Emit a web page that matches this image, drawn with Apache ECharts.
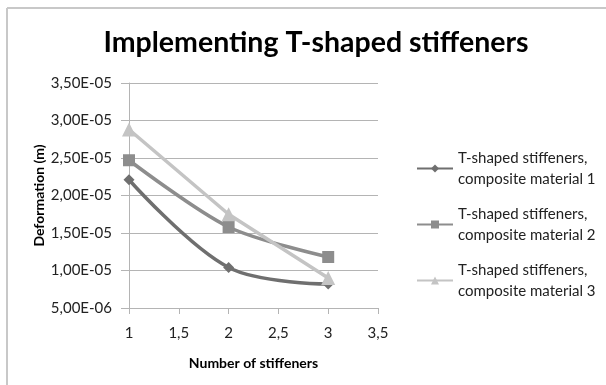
<!DOCTYPE html>
<html>
<head>
<meta charset="utf-8">
<script src="https://cdn.jsdelivr.net/npm/echarts@6/dist/echarts.min.js"></script>
<style>
  html, body { margin: 0; padding: 0; background: #ffffff; }
  #chart { width: 606px; height: 385px; }
</style>
</head>
<body>
<div id="chart"></div>
<script>
// Number of stiffeners
const stiffenerCounts = [1, 2, 3];

// Deformation (m) for each composite material
const material1 = [2.21e-5, 1.04e-5, 8.2e-6];
const material2 = [2.47e-5, 1.58e-5, 1.18e-5];
const material3 = [2.88e-5, 1.75e-5, 9.0e-6];

const seriesNames = [
  'T-shaped stiffeners,\ncomposite material 1',
  'T-shaped stiffeners,\ncomposite material 2',
  'T-shaped stiffeners,\ncomposite material 3'
];

const titleText = 'Implementing T-shaped stiffeners';
const xAxisTitle = 'Number of stiffeners';
const yAxisTitle = 'Deformation (m)';

const FONT = 'Lato, "Open Sans", sans-serif';

function pairs(values) {
  return stiffenerCounts.map((x, i) => [x, values[i]]);
}

// 3.5e-5 -> "3,50E-05"
function sciLabel(v) {
  const s = v.toExponential(2);
  const [mant, exp] = s.split('e');
  const n = parseInt(exp, 10);
  const sign = n < 0 ? '-' : '+';
  const abs = Math.abs(n);
  return mant.replace('.', ',') + 'E' + sign + (abs < 10 ? '0' + abs : abs);
}

const chart = echarts.init(document.getElementById('chart'), null, { renderer: 'canvas' });

chart.setOption({
  backgroundColor: '#ffffff',
  animation: false,
  title: {
    text: titleText,
    left: 311,
    textAlign: 'center',
    top: 23,
    textStyle: { fontFamily: FONT, fontWeight: 'bold', fontSize: 28.5, color: '#000000' }
  },
  graphic: [
    { type: 'line', shape: { x1: 7, y1: 8, x2: 606, y2: 8 }, style: { stroke: '#c8c8c8', lineWidth: 2 } },
    { type: 'line', shape: { x1: 7, y1: 8, x2: 7, y2: 385 }, style: { stroke: '#c8c8c8', lineWidth: 2 } }
  ],
  grid: { left: 129, top: 83, width: 249, height: 225 },
  xAxis: {
    type: 'value',
    min: 1, max: 3.5, interval: 0.5,
    name: xAxisTitle,
    nameLocation: 'middle',
    nameGap: 48,
    nameTextStyle: { fontFamily: FONT, fontWeight: 'bold', fontSize: 14, color: '#000' },
    axisLine: { show: true, lineStyle: { color: '#b4b4b4', width: 1 } },
    axisTick: { show: true, length: 6, lineStyle: { color: '#b4b4b4' } },
    axisLabel: { fontFamily: FONT, fontSize: 15, color: '#222', margin: 18, formatter: v => String(v).replace('.', ',') },
    splitLine: { show: false }
  },
  yAxis: {
    type: 'value',
    min: 5e-6, max: 3.5e-5, interval: 5e-6,
    name: yAxisTitle,
    nameLocation: 'middle',
    nameGap: 83,
    nameTextStyle: { fontFamily: FONT, fontWeight: 'bold', fontSize: 14, color: '#000' },
    axisLine: { show: true, lineStyle: { color: '#b4b4b4', width: 1 } },
    axisTick: { show: true, length: 8, inside: false, lineStyle: { color: '#b4b4b4' } },
    axisLabel: { fontFamily: FONT, fontSize: 15, color: '#222', margin: 17, formatter: sciLabel },
    splitLine: { show: true, lineStyle: { color: '#b4b4b4', width: 1 } }
  },
  legend: {
    orient: 'vertical',
    left: 411,
    top: 132,
    itemWidth: 36,
    itemHeight: 10,
    itemGap: -7,
    textStyle: { fontFamily: FONT, fontSize: 15, color: '#222', lineHeight: 21, padding: [21, 0, 0, 0] },
    data: seriesNames
  },
  series: [
    {
      name: seriesNames[0], type: 'line', data: pairs(material1), smooth: 0.35,
      symbol: 'diamond', symbolSize: 11,
      lineStyle: { color: '#6f6f6f', width: 3.5 },
      itemStyle: { color: '#6f6f6f' }
    },
    {
      name: seriesNames[1], type: 'line', data: pairs(material2), smooth: 0.3,
      symbol: 'rect', symbolSize: 12,
      lineStyle: { color: '#8d8d8d', width: 3.5 },
      itemStyle: { color: '#8d8d8d' }
    },
    {
      name: seriesNames[2], type: 'line', data: pairs(material3), smooth: false,
      symbol: 'triangle', symbolSize: 14,
      lineStyle: { color: '#c4c4c4', width: 3.5 },
      itemStyle: { color: '#c4c4c4' }
    }
  ]
});
</script>
</body>
</html>
